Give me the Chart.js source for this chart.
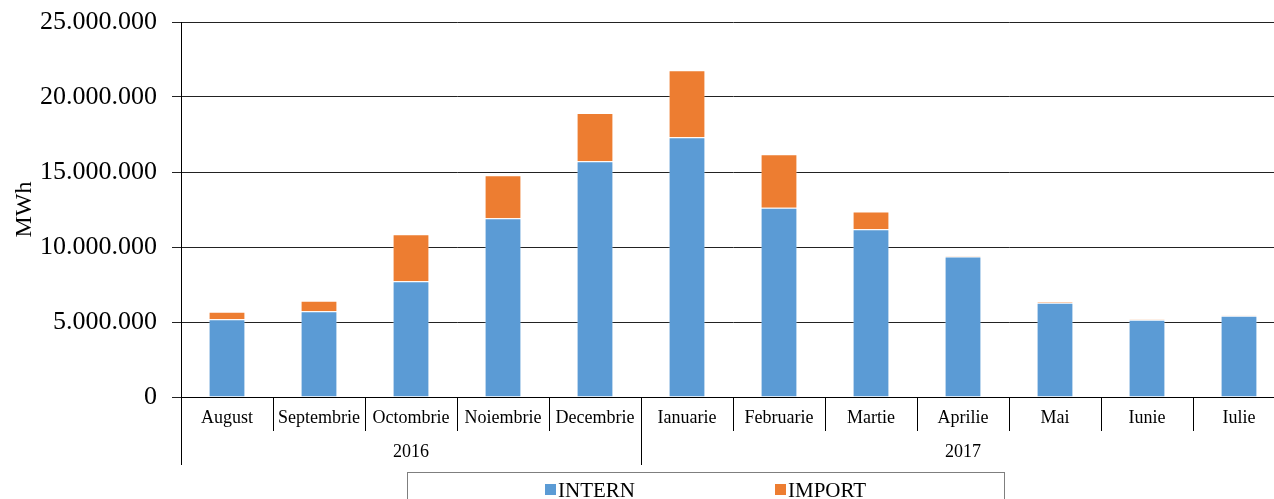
<!DOCTYPE html>
<html>
<head>
<meta charset="utf-8">
<script src="https://cdn.jsdelivr.net/npm/chart.js@4.4.1/dist/chart.umd.min.js"></script>
<style>
html,body{margin:0;padding:0;background:#fff;overflow:hidden;}
#wrap{width:1274px;height:499px;position:relative;overflow:hidden;}
</style>
</head>
<body>
<div id="wrap"><canvas id="c" width="1285" height="499" style="display:block"></canvas></div>
<script>
const months = ['August','Septembrie','Octombrie','Noiembrie','Decembrie','Ianuarie','Februarie','Martie','Aprilie','Mai','Iunie','Iulie'];
const years = ['2016','2017'];
const yearSpans = [5, 7];
const intern = [5180000, 5710000, 7710000, 11910000, 15710000, 17310000, 12620000, 11180000, 9360000, 6290000, 5150000, 5420000];
const importVals = [510000, 710000, 3140000, 2870000, 3230000, 4470000, 3560000, 1180000, 50000, 40000, 30000, 20000];
const yTicks = [0, 5000000, 10000000, 15000000, 20000000, 25000000];

const FONT = "'Liberation Serif','Times New Roman',serif";

function fmt(v){
  return v.toString().replace(/\B(?=(\d{3})+(?!\d))/g, '.');
}

const axisPlugin = {
  id: 'multiAxis',
  afterDraw(chart){
    const ctx = chart.ctx;
    const x = chart.scales.x;
    const y = chart.scales.y;
    const base = y.getPixelForValue(0);
    const half = (x.getPixelForValue(1) - x.getPixelForValue(0)) / 2;
    ctx.save();
    ctx.strokeStyle = '#000';
    ctx.lineWidth = 1;
    ctx.fillStyle = '#000';
    ctx.font = '18px ' + FONT;
    ctx.textAlign = 'center';
    ctx.textBaseline = 'middle';
    const yearStarts = [];
    let acc = 0;
    yearSpans.forEach(s => { yearStarts.push(acc); acc += s; });
    months.forEach((m, i) => {
      const cx = x.getPixelForValue(i);
      ctx.fillText(m, cx, base + 21);
      const lx = Math.round(cx - half) + 0.5;
      const isYear = yearStarts.indexOf(i) >= 0;
      ctx.beginPath();
      ctx.moveTo(lx, base);
      ctx.lineTo(lx, base + (isYear ? 68 : 34));
      ctx.stroke();
    });
    years.forEach((yl, k) => {
      const s = yearStarts[k];
      const e = s + yearSpans[k] - 1;
      const cx = (x.getPixelForValue(s) - half + x.getPixelForValue(e) + half) / 2;
      ctx.fillText(yl, cx, base + 55);
    });
    // legend
    const lx0 = 407.5, ly0 = 472.5, lw = 597, lh = 40;
    ctx.strokeStyle = '#7f7f7f';
    ctx.strokeRect(lx0, ly0, lw, lh);
    ctx.font = '21px ' + FONT;
    ctx.textAlign = 'left';
    ctx.textBaseline = 'middle';
    const itemX = [545, 775];
    chart.data.datasets.forEach((ds, i) => {
      ctx.fillStyle = ds.backgroundColor;
      ctx.fillRect(itemX[i], 484, 11, 11);
      ctx.fillStyle = '#000';
      ctx.fillText(ds.label, itemX[i] + 13, 491);
    });
    ctx.restore();
  }
};

new Chart(document.getElementById('c'), {
  type: 'bar',
  data: {
    labels: months,
    datasets: [
      { label: 'INTERN', data: intern, backgroundColor: '#5B9BD5', borderColor: 'rgba(255,255,255,0.35)', borderWidth: 1, barPercentage: 0.4, categoryPercentage: 1 },
      { label: 'IMPORT', data: importVals, backgroundColor: '#ED7D31', borderColor: 'rgba(255,255,255,0.35)', borderWidth: 1, barPercentage: 0.4, categoryPercentage: 1 }
    ]
  },
  options: {
    responsive: false,
    animation: false,
    layout: { padding: { top: 22, right: 0, bottom: 0, left: 0 } },
    plugins: { legend: { display: false }, tooltip: { enabled: false } },
    scales: {
      x: {
        stacked: true,
        grid: { display: false },
        border: { display: true, color: '#000', width: 1 },
        ticks: { display: false },
        afterFit(scale){ scale.height = 102; scale.paddingLeft = 0; scale.paddingRight = 0; }
      },
      y: {
        stacked: true,
        min: 0,
        max: 25000000,
        afterBuildTicks(scale){ scale.ticks = yTicks.map(v => ({ value: v })); },
        ticks: {
          padding: 15,
          color: '#000',
          font: { family: FONT, size: 26 },
          callback: v => fmt(v)
        },
        grid: { color: '#222', lineWidth: 1, tickLength: 9, drawTicks: true },
        border: { display: true, color: '#000', width: 1 },
        title: { display: true, text: 'MWh', color: '#000', font: { family: FONT, size: 24 }, padding: { top: 10, bottom: 0 } },
        afterFit(scale){ scale.width = 181; scale.paddingTop = 0; scale.paddingBottom = 0; }
      }
    }
  },
  plugins: [axisPlugin]
});
</script>
</body>
</html>
